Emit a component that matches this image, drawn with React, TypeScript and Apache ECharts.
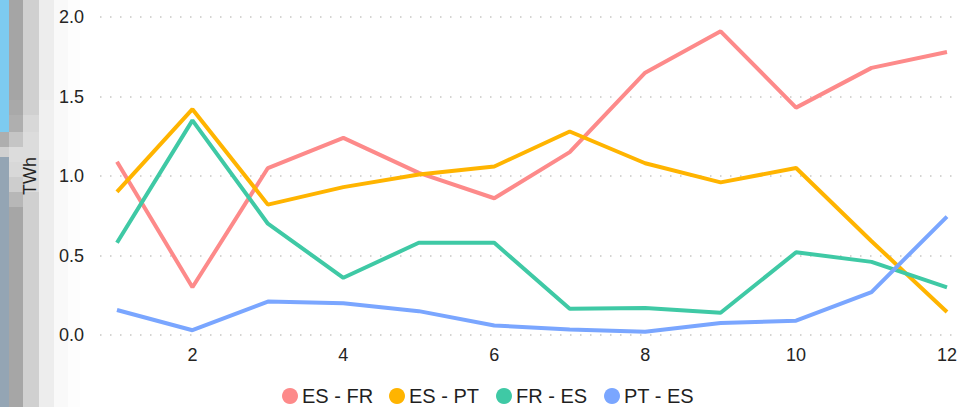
import React, { useEffect, useRef } from "react";
import * as echarts from "echarts";

const months = [1, 2, 3, 4, 5, 6, 7, 8, 9, 10, 11, 12];
const xTickLabels = [2, 4, 6, 8, 10, 12];
const yTicks = [0, 0.5, 1, 1.5, 2];
const seriesNames = ["ES - FR", "ES - PT", "FR - ES", "PT - ES"];
const esFr = [1.09, 0.3, 1.05, 1.24, 1.02, 0.86, 1.15, 1.65, 1.91, 1.43, 1.68, 1.78];
const esPt = [0.9, 1.42, 0.82, 0.93, 1.01, 1.06, 1.28, 1.08, 0.96, 1.05, 0.59, 0.145];
const frEs = [0.58, 1.35, 0.7, 0.36, 0.58, 0.58, 0.165, 0.17, 0.14, 0.52, 0.46, 0.3];
const ptEs = [0.157, 0.03, 0.21, 0.2, 0.15, 0.06, 0.035, 0.02, 0.075, 0.09, 0.27, 0.745];
const colors = ["#FD8A8A", "#FFB400", "#3FC9A5", "#7AA6FF"];

const FONT = "'Liberation Sans', Arial, sans-serif";

// decorative blurred strip on the left edge (x0, x1, y0, y1, color)
const strip: [number, number, number, number, string][] = [
  [0, 9, 0, 132, "#7DCBF0"],
  [0, 9, 132, 147, "#AEAEAE"],
  [0, 9, 147, 157, "#D0D0D0"],
  [0, 9, 157, 407, "#94A5B4"],
  [9, 23, 0, 100, "#A5A5A5"],
  [9, 23, 100, 115, "#A9A9A9"],
  [9, 23, 115, 132, "#AFAFAF"],
  [9, 23, 132, 147, "#C5C5C5"],
  [9, 23, 147, 162, "#DCDCDC"],
  [9, 23, 162, 177, "#D8D8D8"],
  [9, 23, 177, 192, "#CDCDCD"],
  [9, 23, 192, 207, "#B7B7B7"],
  [9, 23, 207, 407, "#A6A6A6"],
  [23, 39, 0, 115, "#D0D0D0"],
  [23, 39, 115, 132, "#D8D8D8"],
  [23, 39, 132, 192, "#DCDCDC"],
  [23, 39, 192, 407, "#D0D0D0"],
  [39, 54, 0, 100, "#EDEDED"],
  [39, 54, 100, 160, "#F0F0F0"],
  [39, 54, 160, 407, "#EDEDED"],
  [54, 68, 0, 407, "#F9F9F9"],
  [68, 80, 0, 407, "#FDFDFD"],
];

const legendLefts = [282, 389, 496, 604];

export default function App() {
  const ref = useRef<HTMLDivElement>(null);
  useEffect(() => {
    if (!ref.current) return;
    const chart = echarts.init(ref.current, undefined, { renderer: "svg" });
    const data = [esFr, esPt, frEs, ptEs];
    chart.setOption({
      animation: false,
      backgroundColor: "#ffffff",
      graphic: strip.map(([x0, x1, y0, y1, c]) => ({
        type: "rect",
        silent: true,
        z: -10,
        shape: { x: x0, y: y0, width: x1 - x0, height: y1 - y0 },
        style: { fill: c },
      })),
      grid: { left: 100, right: 0, top: 17, bottom: 72 },
      legend: seriesNames.map((n, i) => ({
        data: [n],
        left: legendLefts[i],
        top: 386,
        padding: 0,
        icon: "circle",
        itemWidth: 16,
        itemHeight: 16,
        textStyle: { fontSize: 20, color: "#1F1F1F", fontFamily: FONT, padding: [0, 0, 0, -1] },
      })),
      xAxis: {
        type: "value",
        min: 0.775,
        max: 12.172,
        axisLine: { show: false },
        axisTick: { show: false },
        splitLine: { show: false },
        axisLabel: {
          customValues: xTickLabels,
          fontSize: 18,
          color: "#252423",
          fontFamily: FONT,
          margin: 11,
        },
      },
      yAxis: {
        type: "value",
        min: 0,
        max: 2,
        interval: 0.5,
        name: "TWh",
        nameLocation: "middle",
        nameGap: 61,
        nameTextStyle: { fontSize: 18, color: "#252423", fontFamily: FONT },
        axisLine: { show: false },
        axisTick: { show: false },
        axisLabel: {
          fontSize: 18,
          color: "#252423",
          fontFamily: FONT,
          margin: 16,
          formatter: (v: number) => (yTicks.includes(v) ? v.toFixed(1) : ""),
        },
        splitLine: {
          show: true,
          lineStyle: { color: "#C8C6C4", width: 1.5, type: [1.5, 8.5] },
        },
      },
      series: seriesNames.map((n, i) => ({
        name: n,
        type: "line",
        data: months.map((m, j) => [m, data[i][j]]),
        showSymbol: false,
        symbol: "circle",
        color: colors[i],
        lineStyle: { width: 4, color: colors[i] },
      })),
    });
    return () => chart.dispose();
  }, []);
  return (
    <div
      ref={ref}
      style={{ position: "fixed", left: 0, top: 0, width: 960, height: 407 }}
    />
  );
}
